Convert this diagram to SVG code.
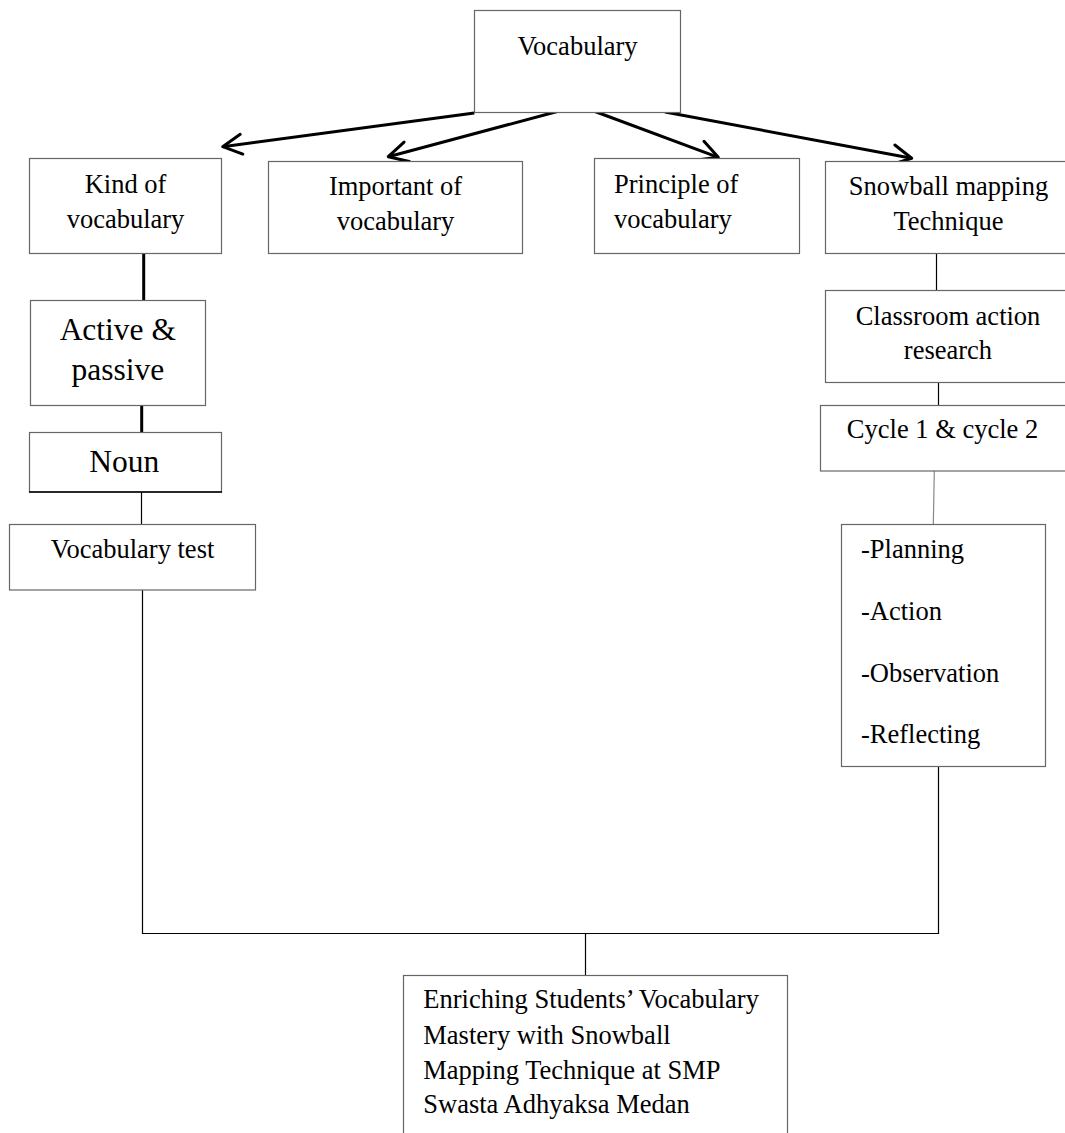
<svg xmlns="http://www.w3.org/2000/svg" width="1065" height="1133" viewBox="0 0 1065 1133">
<style>
.box{fill:#fff;stroke:#666;stroke-width:1.2}
.t{font-family:"Liberation Serif","Times New Roman",serif;font-size:26.5px;fill:#000}
.c{text-anchor:middle}
.big{font-size:31.5px}
.thin{stroke:#000;stroke-width:1.2;fill:none}
.thick{stroke:#000;stroke-width:3;fill:none}
.arrow{stroke:#000;stroke-width:3;fill:none;marker-end:url(#ah)}
</style>
<defs>
<marker id="ah" markerUnits="userSpaceOnUse" viewBox="-25 -15 30 30" markerWidth="30" markerHeight="30" refX="0" refY="0" orient="auto">
<path d="M-19,-10 L0,0 L-19,10" fill="none" stroke="#000" stroke-width="3" stroke-linejoin="round" stroke-linecap="round"/>
</marker>
</defs>
<rect width="1065" height="1133" fill="#fff"/>
<g id="connectors">
<line class="arrow" x1="474.3" y1="113" x2="222.7" y2="146.7"/>
<line class="arrow" x1="557.3" y1="111.5" x2="388.3" y2="156.7"/>
<line class="arrow" x1="595" y1="111.5" x2="718.3" y2="157.3"/>
<line class="arrow" x1="665" y1="112" x2="911.7" y2="158.3"/>
<line class="thick" x1="143.7" y1="253.5" x2="143.7" y2="300"/>
<line class="thick" x1="141.7" y1="405.5" x2="141.7" y2="432.5"/>
<line class="thin" x1="141.5" y1="492" x2="141.5" y2="524.5"/>
<polyline class="thin" points="142.5,590 142.5,933.5 938.5,933.5 938.5,766.5"/>
<line class="thin" x1="585.5" y1="933.5" x2="585.5" y2="975.5"/>
<line class="thin" x1="936.5" y1="253.5" x2="936.5" y2="290.5"/>
<line class="thin" x1="938.5" y1="382.5" x2="938.5" y2="409"/>
<line x1="934.3" y1="471" x2="933.3" y2="524.5" stroke="#888" stroke-width="1.2"/>
</g>
<g id="vocabulary">
<rect class="box" x="474.5" y="10.5" width="206" height="102"/>
<text class="t c" x="577.5" y="55">Vocabulary</text>
</g>
<g id="kind">
<rect class="box" x="29.5" y="158.5" width="192" height="95"/>
<text class="t c" x="125.5" y="192.7">Kind of</text>
<text class="t c" x="125.5" y="228.3">vocabulary</text>
</g>
<g id="important">
<rect class="box" x="268.5" y="161.5" width="254" height="92"/>
<text class="t c" x="395.5" y="195">Important of</text>
<text class="t c" x="395.5" y="230">vocabulary</text>
</g>
<g id="principle">
<rect class="box" x="594.5" y="158.5" width="205" height="95"/>
<text class="t" x="614" y="193.3">Principle of</text>
<text class="t" x="614" y="228.3">vocabulary</text>
</g>
<g id="snowball">
<rect class="box" x="825.5" y="161.5" width="260" height="92"/>
<text class="t c" x="948.5" y="195">Snowball mapping</text>
<text class="t c" x="948.5" y="230">Technique</text>
</g>
<g id="active">
<rect class="box" x="30.5" y="300.5" width="175" height="105"/>
<text class="t c big" x="117.8" y="340">Active &amp;</text>
<text class="t c big" x="117.8" y="380">passive</text>
</g>
<g id="noun">
<rect class="box" x="29.5" y="432.5" width="192" height="59.5"/>
<line x1="29" y1="492" x2="222" y2="492" stroke="#000" stroke-width="1.5"/>
<text class="t c big" x="124.3" y="471.7">Noun</text>
</g>
<g id="vocabtest">
<rect class="box" x="9.5" y="524.5" width="246" height="65.5"/>
<text class="t c" x="132.5" y="558.3">Vocabulary test</text>
</g>
<g id="classroom">
<rect class="box" x="825.5" y="290.5" width="260" height="92"/>
<text class="t c" x="948" y="325">Classroom action</text>
<text class="t c" x="948" y="359.3">research</text>
</g>
<g id="cycle">
<rect class="box" x="820.5" y="405.5" width="265" height="65.5"/>
<text class="t c" x="942.5" y="438.3">Cycle 1 &amp; cycle 2</text>
</g>
<g id="steps">
<rect class="box" x="841.5" y="524.5" width="204" height="242"/>
<text class="t" x="861" y="558.3">-Planning</text>
<text class="t" x="861" y="620">-Action</text>
<text class="t" x="861" y="681.7">-Observation</text>
<text class="t" x="861" y="743.3">-Reflecting</text>
</g>
<g id="title">
<rect class="box" x="403.5" y="975.5" width="384" height="180"/>
<text class="t" x="423.3" y="1008.3">Enriching Students’ Vocabulary</text>
<text class="t" x="423.3" y="1044">Mastery with Snowball</text>
<text class="t" x="423.3" y="1079.3">Mapping Technique at SMP</text>
<text class="t" x="423.3" y="1113.3">Swasta Adhyaksa Medan</text>
</g>
</svg>
